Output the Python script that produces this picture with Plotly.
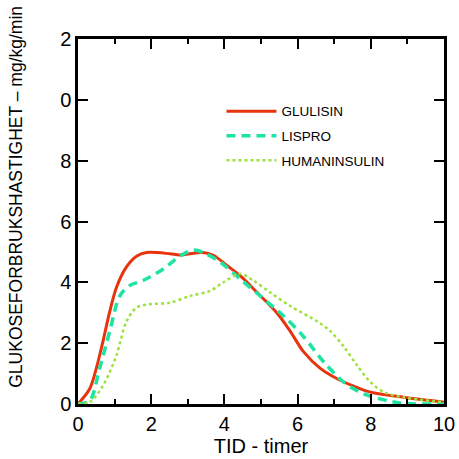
import plotly.graph_objects as go

# Glucose infusion rate curves
glulisin_x = [0, 0.32, 0.5, 0.68, 0.87, 1.05, 1.32, 1.6, 1.87, 2.51, 2.78, 3.4, 3.7, 4.06, 4.43, 4.89, 5.43, 5.8, 6.16, 6.62, 7.08, 7.53, 7.99, 8.9, 10]
glulisin_y = [0, 0.5, 1.17, 2.05, 3.05, 3.83, 4.5, 4.86, 4.98, 4.94, 4.9, 4.98, 4.89, 4.56, 4.22, 3.67, 3.0, 2.39, 1.72, 1.17, 0.83, 0.59, 0.39, 0.22, 0.06]

lispro_x = [0, 0.32, 0.59, 0.87, 1.14, 1.42, 1.78, 2.33, 2.78, 3.15, 3.42, 3.88, 4.43, 4.98, 5.62, 6.16, 6.71, 7.26, 7.81, 8.45, 8.9, 10]
lispro_y = [0, 0.11, 1.17, 2.4, 3.55, 3.9, 4.06, 4.44, 4.86, 5.06, 4.98, 4.67, 4.11, 3.55, 2.89, 2.22, 1.39, 0.72, 0.33, 0.11, 0.02, 0]

human_x = [0, 0.32, 0.68, 1.05, 1.32, 1.6, 1.96, 2.51, 3.06, 3.61, 3.97, 4.43, 4.79, 5.25, 5.8, 6.53, 6.9, 7.26, 7.62, 7.99, 8.36, 8.9, 10]
human_y = [0, 0.06, 0.6, 1.6, 2.7, 3.17, 3.28, 3.33, 3.55, 3.72, 4.0, 4.28, 4.06, 3.67, 3.22, 2.72, 2.39, 1.89, 1.28, 0.72, 0.39, 0.22, 0.06]

y_tickvals = [0, 2, 4, 6, 8, 10, 12]
y_ticktext = ["0", "2", "4", "6", "8", "0", "2"]
x_tickvals = [0, 2, 4, 6, 8, 10]

fig = go.Figure()
fig.add_trace(go.Scatter(x=glulisin_x, y=glulisin_y, name="GLULISIN", mode="lines", legendgroup="a",
                         line=dict(color="#e8340c", width=3, shape="spline", smoothing=0.9)))
fig.add_trace(go.Scatter(x=lispro_x, y=lispro_y, name="LISPRO", mode="lines", legendgroup="b",
                         line=dict(color="#1fe3a2", width=3.5, dash="9px,6px", shape="spline", smoothing=0.9)))
fig.add_trace(go.Scatter(x=human_x, y=human_y, name="HUMANINSULIN", mode="lines", legendgroup="c",
                         line=dict(color="#9de23a", width=2.5, dash="dot", shape="spline", smoothing=0.9)))

axis_common = dict(showline=True, linecolor="black", linewidth=2.5, mirror="ticks",
                   ticks="inside", ticklen=10, tickwidth=2, tickcolor="black",
                   showgrid=False, zeroline=False, automargin=False,
                   tickfont=dict(family="Liberation Sans, Arial", size=20, color="black"))

fig.update_layout(
    width=459, height=459,
    margin=dict(l=78, r=15, t=39, b=55),
    plot_bgcolor="white", paper_bgcolor="white",
    font=dict(family="Liberation Sans, Arial", color="black"),
    xaxis=dict(range=[0, 10], tickvals=x_tickvals,
               minor=dict(dtick=1, ticks="inside", ticklen=5, tickwidth=2, tickcolor="black"),
               title=dict(text="TID - timer", font=dict(size=20), standoff=4),
               **axis_common),
    yaxis=dict(range=[0, 12], tickvals=y_tickvals, ticktext=y_ticktext, **axis_common),
    legend=dict(x=0.392, y=0.844, xanchor="left", yanchor="top", bgcolor="rgba(0,0,0,0)",
                font=dict(size=13.5), tracegroupgap=4, itemwidth=50),
    showlegend=True,
    annotations=[dict(text="GLUKOSEFORBRUKSHASTIGHET – mg/kg/min", textangle=-90,
                      xref="paper", yref="paper", x=-0.17, y=(404 - 197) / 365,
                      xanchor="center", yanchor="middle", showarrow=False,
                      font=dict(size=17.5))],
)

fig.write_html("out.html", config={"displayModeBar": False},
               post_script="document.body.style.margin='0';")
